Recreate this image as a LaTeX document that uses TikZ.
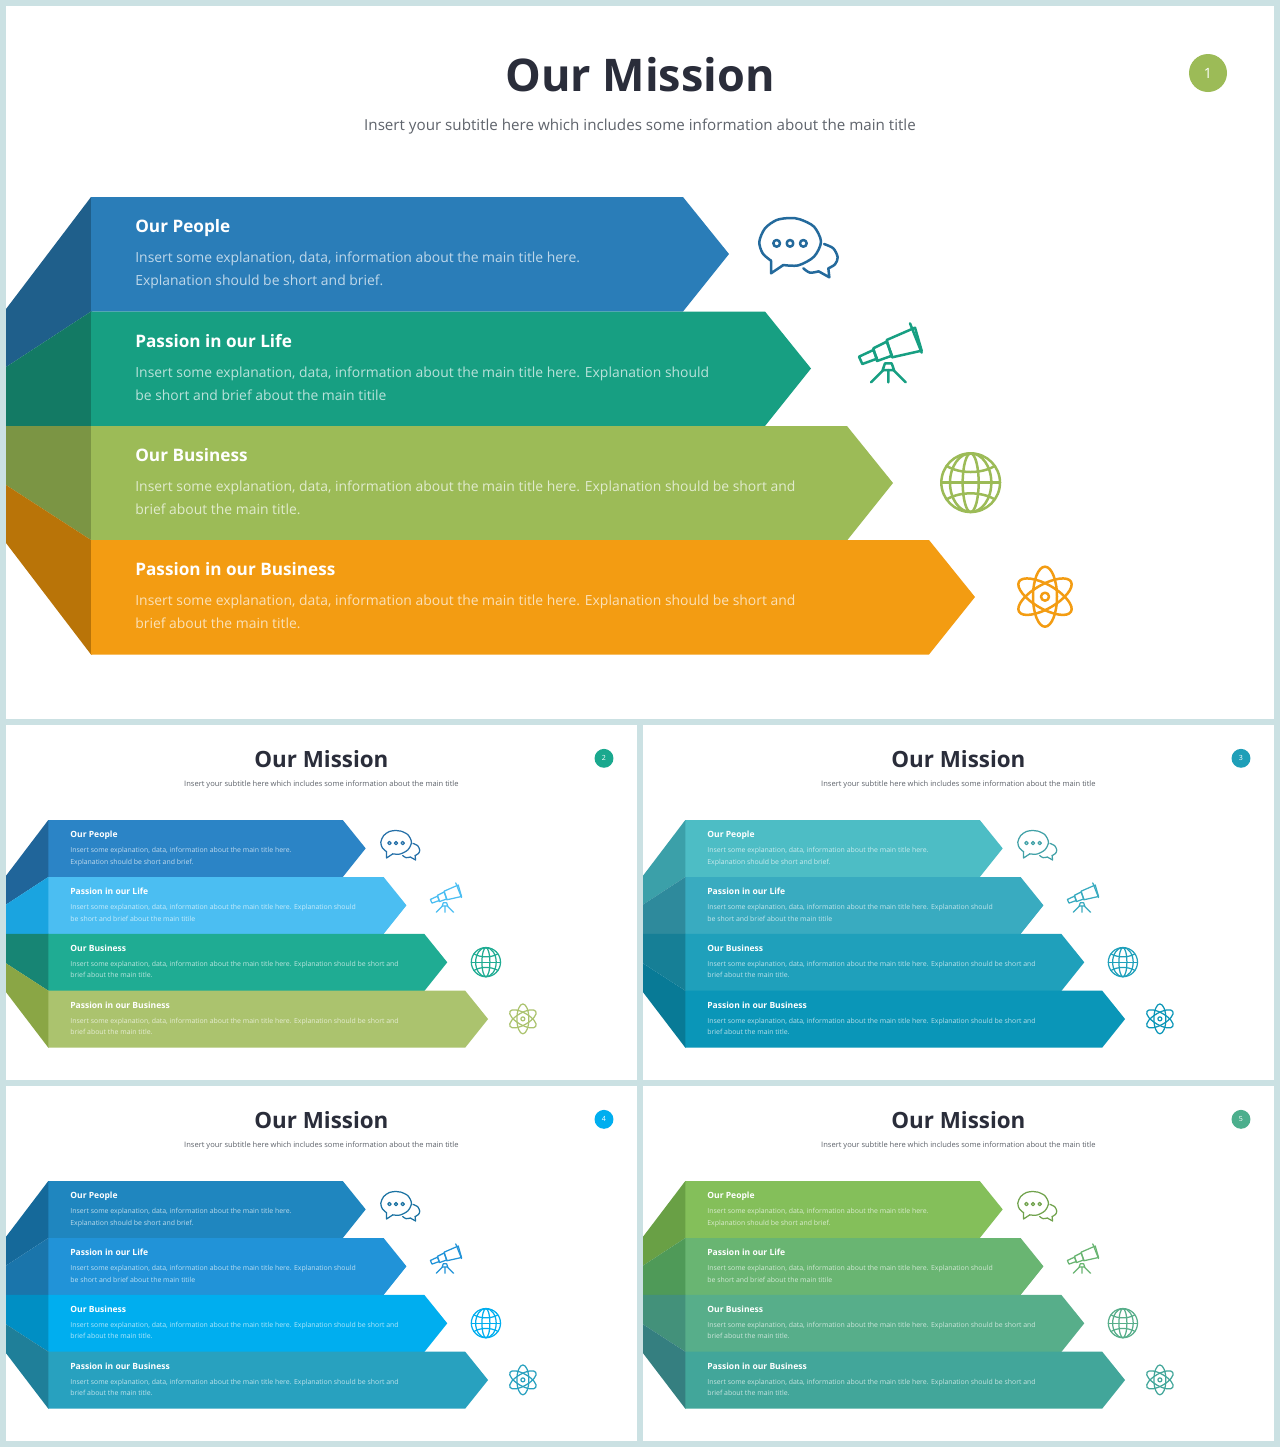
\documentclass[tikz,border=0pt]{standalone}
\usepackage{fontspec}
\setmainfont{Open Sans}
\definecolor{frame}{HTML}{CBE1E3}
\definecolor{ink}{HTML}{2A2D3A}
\definecolor{subink}{HTML}{5F646C}
% slide 1
\definecolor{p1b1}{HTML}{2A7DB8}\definecolor{p1s1}{HTML}{1F5F8B}
\definecolor{p1b2}{HTML}{179F82}\definecolor{p1s2}{HTML}{137A64}
\definecolor{p1b3}{HTML}{9CBB57}\definecolor{p1s3}{HTML}{7B9544}
\definecolor{p1b4}{HTML}{F39C12}\definecolor{p1s4}{HTML}{B97408}
\definecolor{p1c}{HTML}{9CBB57}
% slide 2
\definecolor{p2b1}{HTML}{2B84C6}\definecolor{p2s1}{HTML}{20659A}
\definecolor{p2b2}{HTML}{4BBEF2}\definecolor{p2s2}{HTML}{1AA4E0}
\definecolor{p2b3}{HTML}{1FAC93}\definecolor{p2s3}{HTML}{178574}
\definecolor{p2b4}{HTML}{ABC36E}\definecolor{p2s4}{HTML}{8AA645}
\definecolor{p2c}{HTML}{1AA88E}
% slide 3
\definecolor{p3b1}{HTML}{4DBDC5}\definecolor{p3s1}{HTML}{3BA0A9}
\definecolor{p3b2}{HTML}{39ABC0}\definecolor{p3s2}{HTML}{2E8A9C}
\definecolor{p3b3}{HTML}{1FA0BB}\definecolor{p3s3}{HTML}{167F96}
\definecolor{p3b4}{HTML}{0A96B8}\definecolor{p3s4}{HTML}{087A96}
\definecolor{p3c}{HTML}{1F9FB8}
% slide 4
\definecolor{p4b1}{HTML}{1F86BF}\definecolor{p4s1}{HTML}{15699A}
\definecolor{p4b2}{HTML}{2193D8}\definecolor{p4s2}{HTML}{1A75AB}
\definecolor{p4b3}{HTML}{00AEEF}\definecolor{p4s3}{HTML}{008FC4}
\definecolor{p4b4}{HTML}{28A1BF}\definecolor{p4s4}{HTML}{1F7F99}
\definecolor{p4c}{HTML}{00AEEF}
% slide 5
\definecolor{p5b1}{HTML}{84BF5A}\definecolor{p5s1}{HTML}{69A045}
\definecolor{p5b2}{HTML}{69B572}\definecolor{p5s2}{HTML}{4F9A58}
\definecolor{p5b3}{HTML}{57AE8A}\definecolor{p5s3}{HTML}{43917A}
\definecolor{p5b4}{HTML}{42A69A}\definecolor{p5s4}{HTML}{357F80}
\definecolor{p5c}{HTML}{4CAF8D}
\tikzset{
  headtext/.style={anchor=base west,inner sep=0pt,text=white,font=\fontsize{10.3}{14}\selectfont\bfseries},
  bodytext/.style={anchor=base west,inner sep=0pt,font=\fontsize{8.35}{13.7}\selectfont,align=left},
  titletext/.style={inner sep=0pt,text=ink,font=\fontsize{27}{32}\selectfont\bfseries},
  subtext/.style={inner sep=0pt,text=subink,font=\fontsize{9.1}{12}\selectfont},
  numtext/.style={inner sep=0pt,text=white,font=\fontsize{8.5}{11}\selectfont},
  icon/.style={line join=round,line cap=round,fill=none}
}
% #1 slide, #2 band number, #3 top y, #4 right shoulder x, #5 side polygon path, #6 heading, #7 body, #8 body-lines baseline
\newcommand{\band}[8]{%
  \fill[p#1s#2] #5 -- cycle;
  \fill[p#1b#2] (91,#3) -- ({#4},#3) -- ({#4+46},{#3+57}) -- ({#4},{#3+114.5}) -- (91,{#3+114.5}) -- cycle;
  \node[headtext] (h#2) at (135,{#3+35.5}) {#6};
  \node[bodytext,text=p#1b#2!30!white] (t#2) at (135,#8) {#7};
}
% #1 slide #2 tx #3 ty #4 scale
\newcommand{\slide}[4]{%
\begin{scope}[shift={(#2,#3)},scale=#4,shift={(-6,-6)},name prefix=s#1-,every node/.append style={transform shape}]
  \def\lw{#4*1.5pt}
  \fill[white] (6,6) rectangle (1274,719);
  \node[titletext] (title) at (640,75) {Our Mission};
  \node[subtext] (sub) at (640,126.5) {Insert your subtitle here which includes some information about the main title};
  \fill[p#1c] (1208,73) circle (19);
  \node[numtext] (num) at (1208,73) {#1};
  \band{#1}{1}{197}{683}{(92,197) -- (91,197) -- (6,309) -- (6,367) -- (91,311.5) -- (92,311.5)}{Our People}{Insert some explanation, data, information about the main title here.\\Explanation should be short and brief.}{285.5}
  \band{#1}{2}{311.5}{765}{(92,311.5) -- (91,311.5) -- (6,367) -- (6,426) -- (92,426)}{Passion in our Life}{Insert some explanation, data, information about the main title here. Explanation should\\be short and brief about the main titile}{400.5}
  \band{#1}{3}{426}{847}{(92,426) -- (6,426) -- (6,485) -- (91,540) -- (92,540)}{Our Business}{Insert some explanation, data, information about the main title here. Explanation should be short and\\brief about the main title.}{514.5}
  \band{#1}{4}{540}{929}{(92,540) -- (91,540) -- (6,485) -- (6,543) -- (91,654.5) -- (92,654.5)}{Passion in our Business}{Insert some explanation, data, information about the main title here. Explanation should be short and\\brief about the main title.}{628.5}
  % chat icon
  \begin{scope}[shift={(740,200)},scale=1/3,icon,draw=p#1b1!85!black,line width=\lw]
    \draw plot[smooth] coordinates {(130,195) (175,196) (222,170) (243,125) (222,80) (180,58) (150,54) (110,60) (75,85) (58,125) (68,160) (93,182)};
    \draw (93,182) -- (93,220) -- (130,195);
    \draw plot[smooth] coordinates {(252,132) (280,145) (293,172) (285,193) (265,205)};
    \draw (265,205) -- (268,232) -- (236,214);
    \draw plot[smooth] coordinates {(236,214) (210,218) (190,205)};
    \draw (110,130) circle (10) (150,130) circle (10) (190,130) circle (10);
  \end{scope}
  % telescope icon
  \begin{scope}[shift={(740,200)},scale=1/3,icon,draw=p#1b2,line width=\lw]
    \draw (357,470) -- (400,450) -- (411,476) -- (367,492) -- cycle;
    \draw (400,445) -- (440,425) -- (456,467) -- (411,483) -- cycle;
    \draw (440,420) -- (525,383) -- (545,452) -- (456,472) -- cycle;
    \draw (510,370) -- (545,458);
    \draw (428,510) -- (435,490) -- (455,490) -- (462,510) -- cycle;
    \draw (430,510) -- (393,547) (445,510) -- (445,547) (460,510) -- (497,547);
  \end{scope}
  % globe and atom icons
  \begin{scope}[shift={(920,440)},scale=1/3,icon,line width=\lw]
    \begin{scope}[draw=p#1b3]
      \draw (152,128) circle (88);
      \draw (152,128) ellipse [x radius=24,y radius=88];
      \draw (152,128) ellipse [x radius=62,y radius=88];
      \draw (64,128) -- (240,128);
      \draw (80,78) .. controls (120,102) and (184,102) .. (224,78);
      \draw (80,178) .. controls (120,154) and (184,154) .. (224,178);
    \end{scope}
    \begin{scope}[draw=p#1b4]
      \draw (375,470) circle (12);
      \draw[rotate around={90:(375,470)}] (375,470) ellipse [x radius=90,y radius=36];
      \draw[rotate around={30:(375,470)}] (375,470) ellipse [x radius=90,y radius=36];
      \draw[rotate around={-30:(375,470)}] (375,470) ellipse [x radius=90,y radius=36];
    \end{scope}
  \end{scope}
\end{scope}}
\begin{document}
\begin{tikzpicture}[x=0.6pt,y=-0.6pt]
  \useasboundingbox (0,0) rectangle (1280,1447);
  \fill[frame] (0,0) rectangle (1280,1447);
  \slide{1}{6}{6}{1}
  \slide{2}{6}{725}{0.4975}
  \slide{3}{643}{725}{0.4975}
  \slide{4}{6}{1086}{0.4975}
  \slide{5}{643}{1086}{0.4975}
\end{tikzpicture}
\end{document}
